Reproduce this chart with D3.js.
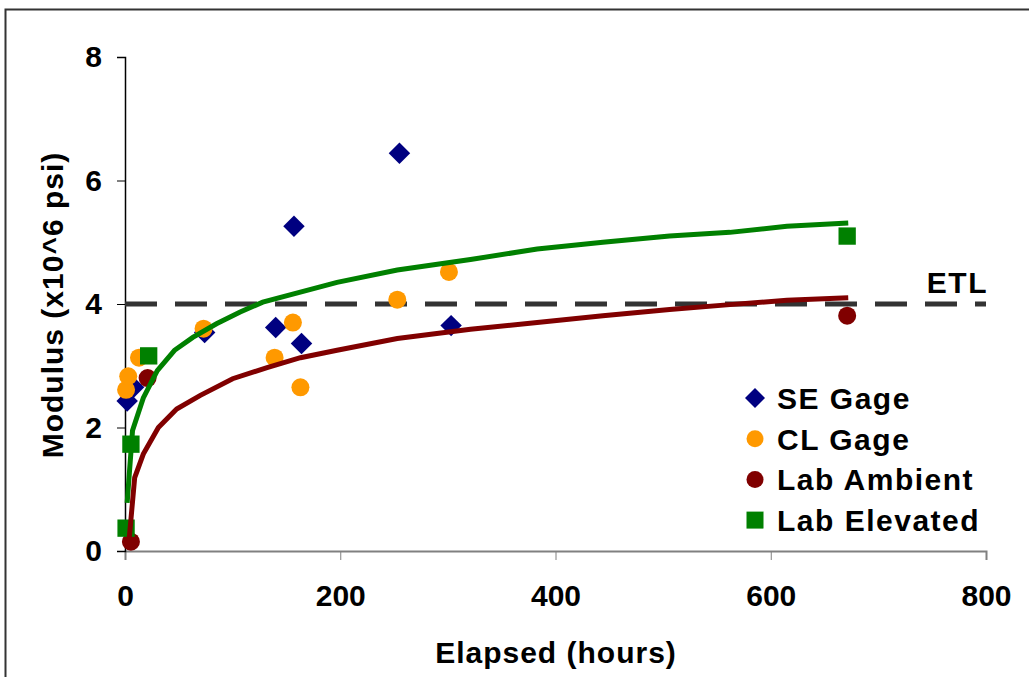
<!DOCTYPE html>
<html>
<head>
<meta charset="utf-8">
<script src="https://cdn.jsdelivr.net/npm/d3@7"></script>
<style>
  body { margin: 0; background: #fff; }
  text { font-family: "Liberation Sans", Arial, sans-serif; font-weight: bold; fill: #000; }
</style>
</head>
<body>
<script>
// measured points [hours, modulus]
var seGage = [[2, 2.43], [8, 2.65], [74, 3.54], [140, 3.62], [157, 5.26], [164, 3.36], [255, 6.44], [303, 3.65]];
var clGage = [[1, 2.61], [3, 2.83], [13, 3.13], [73, 3.6], [139, 3.13], [156, 3.70], [163, 2.65], [253, 4.07], [301, 4.52]];
var labAmbient = [[5.5, 0.15], [21, 2.8], [671, 3.81]];
var labElevated = [[1, 0.37], [5.5, 1.73], [22, 3.16], [671, 5.1]];

// fitted curves
var ambientFit = [[4, 0.22], [9, 1.19], [17, 1.57], [31, 2.0], [48, 2.3], [70, 2.52], [100, 2.79], [132, 2.97],
                  [163, 3.13], [197, 3.25], [253, 3.44], [321, 3.59], [383, 3.70], [444, 3.81], [506, 3.91],
                  [562, 3.99], [615, 4.06], [672, 4.10]];
var elevatedFit = [[2, 0.78], [7, 1.95], [17, 2.48], [30, 2.92], [46, 3.25], [63, 3.46], [85, 3.68], [107, 3.87],
                   [128, 4.03], [197, 4.35], [253, 4.55], [321, 4.72], [383, 4.89], [444, 5.0], [506, 5.1],
                   [562, 5.16], [615, 5.26], [672, 5.31]];

var etlValue = 4;
var xTicks = [0, 200, 400, 600, 800];
var yTicks = [0, 2, 4, 6, 8];
var legendNames = ['SE Gage', 'CL Gage', 'Lab Ambient', 'Lab Elevated'];

// colors
var navy = '#000080', orange = '#ff9900', darkRed = '#800000', green = '#008000';

var W = 1029, H = 677;
var svg = d3.select('body').append('svg')
            .attr('width', W)
            .attr('height', H);

svg.append('rect').attr('width', W).attr('height', H).attr('fill', '#fff');
// outer chart border (runs past the right and bottom edges)
svg.append('rect')
   .attr('x', 5.5).attr('y', 9.5)
   .attr('width', W + 20).attr('height', H + 20)
   .attr('fill', 'none')
   .attr('stroke', '#333')
   .attr('stroke-width', 2);

var xScale = d3.scaleLinear().domain([0, 800]).range([125, 986]);
var yScale = d3.scaleLinear().domain([0, 8]).range([551, 57]);

// x axis
var gX = svg.append('g')
            .attr('transform', 'translate(0,551)')
            .call(d3.axisBottom(xScale).tickValues(xTicks).tickSize(9).tickPadding(25));
gX.select('.domain').attr('stroke', '#808080').attr('stroke-width', 2);
gX.selectAll('.tick line').attr('stroke', '#808080');
gX.selectAll('.tick text').style('font-size', '30px').attr('fill', '#000');

// y axis
var gY = svg.append('g')
            .attr('transform', 'translate(125,0)')
            .call(d3.axisLeft(yScale).tickValues(yTicks).tickSize(8).tickPadding(15));
gY.select('.domain').attr('stroke', '#000').attr('stroke-width', 1.5);
gY.selectAll('.tick line').attr('stroke', '#000');
gY.selectAll('.tick text').style('font-size', '30px').attr('fill', '#000');

// ETL dashed line
svg.append('line')
   .attr('x1', xScale(0)).attr('x2', xScale(800))
   .attr('y1', yScale(etlValue)).attr('y2', yScale(etlValue))
   .attr('stroke', '#333')
   .attr('stroke-width', 5)
   .attr('stroke-dasharray', '32,18');
svg.append('text')
   .attr('x', 988).attr('y', 293)
   .attr('text-anchor', 'end')
   .style('font-size', '30px')
   .style('letter-spacing', '1.5px')
   .text('ETL');

var symDiamond = d3.symbol().type(d3.symbolSquare).size(230);
var symSquare = d3.symbol().type(d3.symbolSquare).size(300);

function pointAt(d) { return 'translate(' + xScale(d[0]) + ',' + yScale(d[1]) + ')'; }

// SE gage diamonds
svg.append('g').selectAll('path')
   .data(seGage).enter().append('path')
   .attr('d', symDiamond)
   .attr('transform', function(d) { return pointAt(d) + ' rotate(45)'; })
   .attr('fill', navy);

// CL gage circles
svg.append('g').selectAll('circle')
   .data(clGage).enter().append('circle')
   .attr('cx', function(d) { return xScale(d[0]); })
   .attr('cy', function(d) { return yScale(d[1]); })
   .attr('r', 9)
   .attr('fill', orange);

// lab ambient circles
svg.append('g').selectAll('circle')
   .data(labAmbient).enter().append('circle')
   .attr('cx', function(d) { return xScale(d[0]); })
   .attr('cy', function(d) { return yScale(d[1]); })
   .attr('r', 9)
   .attr('fill', darkRed);

// lab elevated squares
svg.append('g').selectAll('path')
   .data(labElevated).enter().append('path')
   .attr('d', symSquare)
   .attr('transform', pointAt)
   .attr('fill', green);

// fit curves
var line = d3.line()
             .x(function(d) { return xScale(d[0]); })
             .y(function(d) { return yScale(d[1]); });

svg.append('path')
   .datum(elevatedFit)
   .attr('d', line)
   .attr('fill', 'none')
   .attr('stroke', green)
   .attr('stroke-width', 5);

svg.append('path')
   .datum(ambientFit)
   .attr('d', line)
   .attr('fill', 'none')
   .attr('stroke', darkRed)
   .attr('stroke-width', 5);

// axis titles
svg.append('text')
   .attr('x', 556).attr('y', 663)
   .attr('text-anchor', 'middle')
   .style('font-size', '30px')
   .style('letter-spacing', '1px')
   .text('Elapsed (hours)');

svg.append('text')
   .attr('transform', 'translate(63,305) rotate(-90)')
   .attr('text-anchor', 'middle')
   .style('font-size', '30px')
   .style('letter-spacing', '1px')
   .text('Modulus (x10^6 psi)');

// legend
var legendColors = [navy, orange, darkRed, green];
var legend = svg.append('g');
var rows = legend.selectAll('g')
                 .data(legendNames).enter().append('g')
                 .attr('transform', function(d, i) { return 'translate(755,' + (398 + i * 40.7) + ')'; });

rows.each(function(d, i) {
  var g = d3.select(this);
  if (i === 0) {
    g.append('path').attr('d', d3.symbol().type(d3.symbolSquare).size(200)).attr('transform', 'rotate(45)').attr('fill', navy);
  } else if (i === 3) {
    g.append('path').attr('d', d3.symbol().type(d3.symbolSquare).size(289)).attr('fill', green);
  } else {
    g.append('circle').attr('r', 8.5).attr('fill', legendColors[i]);
  }
});

rows.append('text')
    .attr('x', 22).attr('y', 11)
    .style('font-size', '30px')
    .style('letter-spacing', '1.5px')
    .text(function(d) { return d; });
</script>
</body>
</html>
